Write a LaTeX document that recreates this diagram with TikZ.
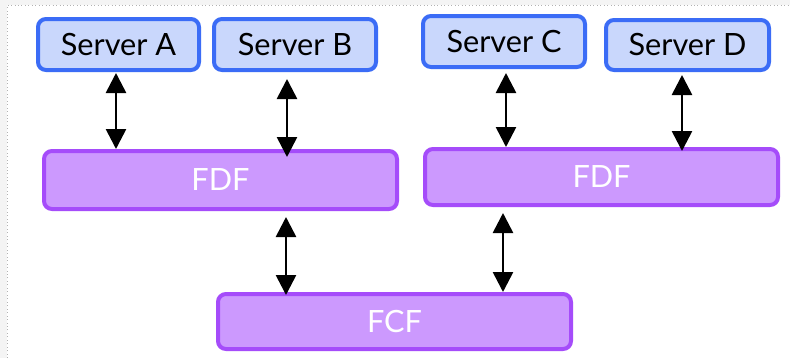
\documentclass[tikz,border=0pt]{standalone}
\usepackage{fontspec}
\setmainfont{Lato}
\usetikzlibrary{arrows.meta}

\definecolor{srvfill}{HTML}{C9D7FC}
\definecolor{srvline}{HTML}{3B6CF6}
\definecolor{fnfill}{HTML}{CC99FE}
\definecolor{fnline}{HTML}{A54CFA}
\definecolor{pagegray}{HTML}{F4F4F4}

\tikzset{
  server/.style={draw=srvline, fill=srvfill, line width=3pt,
    rounded corners=6pt, inner sep=0pt, font=\fontsize{23}{26}\selectfont,
    text=black},
  fnbox/.style={draw=fnline, fill=fnfill, line width=3pt,
    rounded corners=6pt, inner sep=0pt, font=\fontsize{23}{26}\selectfont,
    text=white},
  link/.style={{Triangle[length=15pt,width=15pt]}-{Triangle[length=15pt,width=15pt]},
    line width=2pt, black},
}

\begin{document}
\begin{tikzpicture}[x=0.75pt, y=-0.75pt]
  \useasboundingbox (0,0) rectangle (790,358);

  % page frame
  \fill[pagegray] (0,0) rectangle (790,358);
  \fill[white] (7,5) rectangle (790,358);
  \draw[gray!60, dotted, line width=0.6pt] (7,358) -- (7,5) -- (790,5);

  % servers
  \node[server, minimum width=161*0.75pt, minimum height=51*0.75pt] (sa) at (118.5,44.5) {Server A};
  \node[server, minimum width=162*0.75pt, minimum height=51*0.75pt] (sb) at (295,44.5) {Server B};
  \node[server, minimum width=162*0.75pt, minimum height=51*0.75pt] (sc) at (504,41.5) {Server C};
  \node[server, minimum width=163*0.75pt, minimum height=50*0.75pt] (sd) at (687.5,45) {Server D};

  % forwarding layers
  \node[fnbox, minimum width=353*0.75pt, minimum height=58*0.75pt] (fdf1) at (220.5,180) {FDF};
  \node[fnbox, minimum width=353*0.75pt, minimum height=56*0.75pt] (fdf2) at (601.5,177) {FDF};
  \node[fnbox, minimum width=353*0.75pt, minimum height=55*0.75pt] (fcf) at (394.5,321.5) {FCF};

  % links between servers and FDFs
  \draw[link, shorten <=0.75pt] (sa.south -| 116,0) -- (fdf1.north -| 116,0);
  \draw[link, shorten <=5.25pt, shorten >=-6pt] (sb.south -| 287,0) -- (fdf1.north -| 287,0);
  \draw[link, shorten <=3pt] (sc.south -| 506,0) -- (fdf2.north -| 506,0);
  \draw[link, shorten <=2.25pt, shorten >=-3pt] (sd.south -| 682,0) -- (fdf2.north -| 682,0);

  % links between FDFs and FCF
  \draw[link, shorten <=4.5pt, shorten >=-2.25pt] (fdf1.south -| 286,0) -- (fcf.north -| 286,0);
  \draw[link, shorten <=4.5pt] (fdf2.south -| 503,0) -- (fcf.north -| 503,0);
\end{tikzpicture}
\end{document}
